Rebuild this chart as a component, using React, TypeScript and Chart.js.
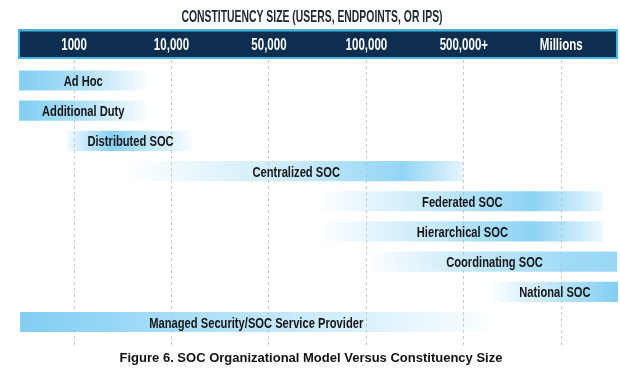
import React, { useEffect, useRef } from "react";
import { Chart, registerables } from "chart.js";

Chart.register(...registerables);

// ---- data ----
const models = [
  "Ad Hoc",
  "Additional Duty",
  "Distributed SOC",
  "Centralized SOC",
  "Federated SOC",
  "Hierarchical SOC",
  "Coordinating SOC",
  "National SOC",
  "Managed Security/SOC Service Provider",
];
// position on the constituency-size axis (0 = 1000, 1 = 10,000, ... 5 = Millions)
const rangeStart = [-0.56, -0.56, -0.06, 0.57, 2.54, 2.54, 3.06, 4.29, -0.55];
const rangeEnd = [0.75, 0.75, 1.22, 3.99, 5.43, 5.43, 5.57, 5.58, 4.29];
const sizeTicks = [0, 1, 2, 3, 4, 5];
const sizeLabels = ["1000", "10,000", "50,000", "100,000", "500,000+", "Millions"];
const axisTitle = "CONSTITUENCY SIZE (USERS, ENDPOINTS, OR IPS)";
const caption = "Figure 6. SOC Organizational Model Versus Constituency Size";

// ---- styles ----
const FONT = "'Liberation Sans', Arial, Helvetica, sans-serif";
const barBlue = (a: number) => `rgba(128, 206, 243, ${a})`;
// gradient fade per bar: [offset, alpha]
const fades: [number, number][][] = [
  [[0, 1], [0.5, 0.62], [1, 0.04]],
  [[0, 1], [0.5, 0.62], [1, 0.04]],
  [[0, 0.12], [0.35, 0.95], [0.65, 0.5], [1, 0.04]],
  [[0, 0.02], [0.5, 0.42], [0.82, 0.85], [1, 0.2]],
  [[0, 0.02], [0.4, 0.45], [0.75, 0.9], [1, 0.15]],
  [[0, 0.02], [0.4, 0.45], [0.75, 0.9], [1, 0.15]],
  [[0, 0.03], [0.45, 0.5], [0.8, 0.75], [1, 0.8]],
  [[0, 0.04], [0.5, 0.5], [1, 1]],
  [[0, 1], [0.4, 0.62], [1, 0.02]],
];

function condensedText(
  ctx: CanvasRenderingContext2D,
  text: string,
  x: number,
  y: number,
  size: number,
  sx: number,
  color: string
) {
  ctx.save();
  ctx.font = `bold ${size}px ${FONT}`;
  ctx.fillStyle = color;
  ctx.textAlign = "center";
  ctx.textBaseline = "alphabetic";
  ctx.translate(x, y + size * 0.358);
  ctx.scale(sx, 1);
  ctx.fillText(text, 0, 0);
  ctx.restore();
}

const decorPlugin = {
  id: "socDecor",
  beforeDraw(chart: any) {
    const ctx: CanvasRenderingContext2D = chart.ctx;
    const xs = chart.scales.x;
    const { left, right } = chart.chartArea;
    const top = 29.5;
    const h = 29.5;
    ctx.save();
    ctx.fillStyle = "#0d2e4f";
    ctx.fillRect(left, top, right - left, h);
    ctx.strokeStyle = "#3db6e8";
    ctx.lineWidth = 2;
    ctx.strokeRect(left + 1, top + 1, right - left - 2, h - 2);
    ctx.restore();
    sizeTicks.forEach((v, k) => {
      condensedText(ctx, sizeLabels[k], xs.getPixelForValue(v), top + h / 2 + 0.5, 16, 0.72, "#ffffff");
    });
    condensedText(ctx, axisTitle, chart.width / 2 + 2, 16, 16.5, 0.63, "#1d2633");
    ctx.save();
    ctx.font = `bold 13px ${FONT}`;
    ctx.fillStyle = "#111111";
    ctx.textAlign = "center";
    ctx.textBaseline = "alphabetic";
    ctx.fillText(caption, chart.width / 2 + 1, 362);
    ctx.restore();
  },
  afterDatasetsDraw(chart: any) {
    const ctx: CanvasRenderingContext2D = chart.ctx;
    const meta = chart.getDatasetMeta(0);
    meta.data.forEach((el: any, i: number) => {
      const { x, base, y } = el.getProps(["x", "base", "y"], true);
      condensedText(ctx, models[i], (x + base) / 2, y, 15.5, 0.72, "#161616");
    });
  },
};

export default function App() {
  const ref = useRef<HTMLCanvasElement | null>(null);

  useEffect(() => {
    if (!ref.current) return;
    const chart = new Chart(ref.current, {
      type: "bar",
      data: {
        datasets: [
          {
            data: models.map((_, i) => ({ y: i, x: [rangeStart[i], rangeEnd[i]] })) as any,
            backgroundColor: (c: any) => {
              const ch = c.chart;
              const xs = ch.scales && ch.scales.x;
              const i = c.dataIndex;
              if (!xs || i === undefined || !ch.chartArea) return barBlue(1);
              const x0 = xs.getPixelForValue(rangeStart[i]);
              const x1 = xs.getPixelForValue(rangeEnd[i]);
              const g = ch.ctx.createLinearGradient(x0, 0, x1, 0);
              fades[i].forEach(([o, a]) => g.addColorStop(o, barBlue(a)));
              return g;
            },
            borderWidth: 0,
            borderSkipped: false,
            barThickness: 19.5,
          },
        ],
      },
      options: {
        indexAxis: "y",
        animation: false,
        responsive: false,
        devicePixelRatio: 1,
        events: [],
        layout: { padding: { left: 18, right: 2, top: 60, bottom: 22 } },
        scales: {
          x: {
            type: "linear",
            position: "top",
            min: -0.575,
            max: 5.582,
            offset: false,
            afterBuildTicks: (scale: any) => {
              scale.ticks = sizeTicks.map((v) => ({ value: v }));
            },
            ticks: { display: false },
            grid: { color: "#c9c9c9", lineWidth: 1, drawTicks: false, offset: false },
            border: { display: false, dash: [3, 3] },
          },
          y: {
            type: "linear",
            reverse: true,
            offset: false,
            min: -0.679,
            max: 8.861,
            display: false,
            grid: { offset: false },
          },
        },
        plugins: {
          legend: { display: false },
          tooltip: { enabled: false },
          title: { display: false },
        },
      },
      plugins: [decorPlugin],
    });
    return () => chart.destroy();
  }, []);

  return (
    <div style={{ position: "fixed", left: 0, top: 0, width: 620, height: 370, background: "#ffffff" }}>
      <canvas ref={ref} width={620} height={370} />
    </div>
  );
}
